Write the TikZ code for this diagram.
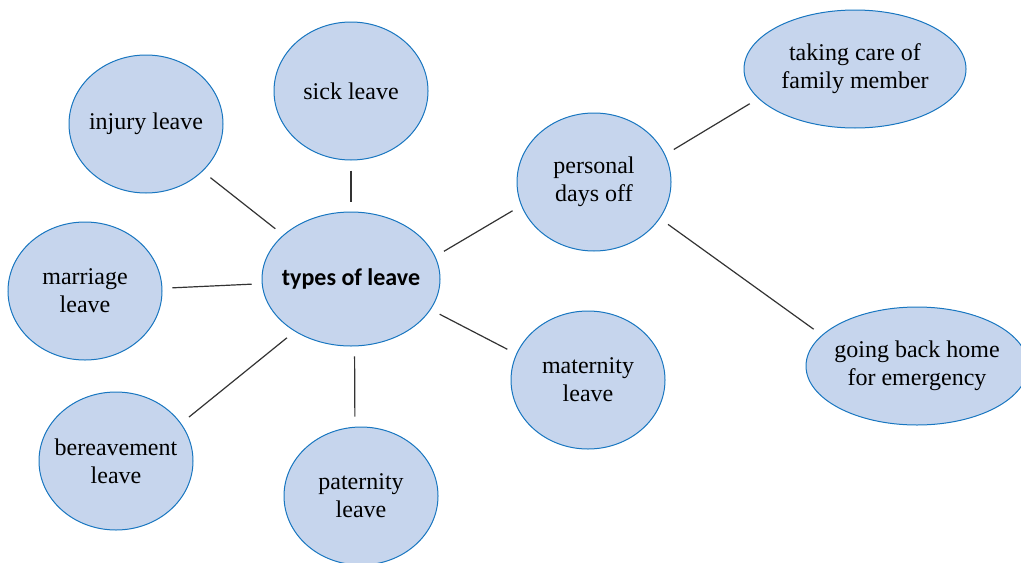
\documentclass[tikz,border=0pt]{standalone}
\usepackage{fontspec}
\setmainfont{Liberation Serif}
\newfontfamily\hubfont{Carlito}
\usetikzlibrary{shapes,positioning}
\definecolor{colorfill}{RGB}{198,213,237}
\definecolor{colorrim}{RGB}{24,118,192}
\tikzstyle{leaf}=[ellipse, draw=colorrim, fill=colorfill, line width=0.5pt, inner xsep=-12pt, inner ysep=0pt, minimum width=77pt, minimum height=69pt, align=center, font=\fontsize{12}{14}\selectfont]
\tikzstyle{wideleaf}=[leaf, minimum width=111pt, minimum height=59pt]
\tikzstyle{hub}=[leaf, minimum width=89pt, minimum height=67pt, font=\hubfont\bfseries\fontsize{12}{14}\selectfont]
\tikzstyle{link}=[draw=black!80, line width=0.6pt, shorten <=5pt, shorten >=5pt]

\begin{document}
\begin{tikzpicture}[x=0.5pt, y=-0.5pt]
		
		\useasboundingbox (0, 0) rectangle (1021, 562);
		
		\node[hub] at (351, 279) (types) {types of leave};
		
		\node[leaf] at (351, 91) (sick) {sick leave};
		
		\node[leaf] at (146, 124) (injury) {injury leave};
		
		\node[leaf] at (85, 291) (marriage) {marriage\\leave};
		
		\node[leaf] at (116, 461) (bereave) {bereavement\\leave};
		
		\node[leaf] at (361, 496) (paternity) {paternity\\leave};
		
		\node[leaf] at (588, 380) (maternity) {maternity\\leave};
		
		\node[leaf] at (594, 182) (personal) {personal\\days off};
		
		\node[wideleaf] at (855, 69) (family) {taking care of\\family member};
		
		\node[wideleaf] at (917, 366) (emergency) {going back home\\for emergency};
		
		\path (injury.320) edge[link] (types.147);
		\path (sick.270) edge[link] (types.90);
		\path (marriage.2) edge[link] (types.183);
		\path (bereave.30) edge[link] (types.223);
		\path (paternity.95) edge[link] (types.273);
		\path (maternity.160) edge[link] (types.339);
		\path (personal.198) edge[link] (types.15);
		\path (personal.21) edge[link] (family.197);
		\path (personal.331) edge[link] (emergency.162);
		
\end{tikzpicture}
\end{document}
